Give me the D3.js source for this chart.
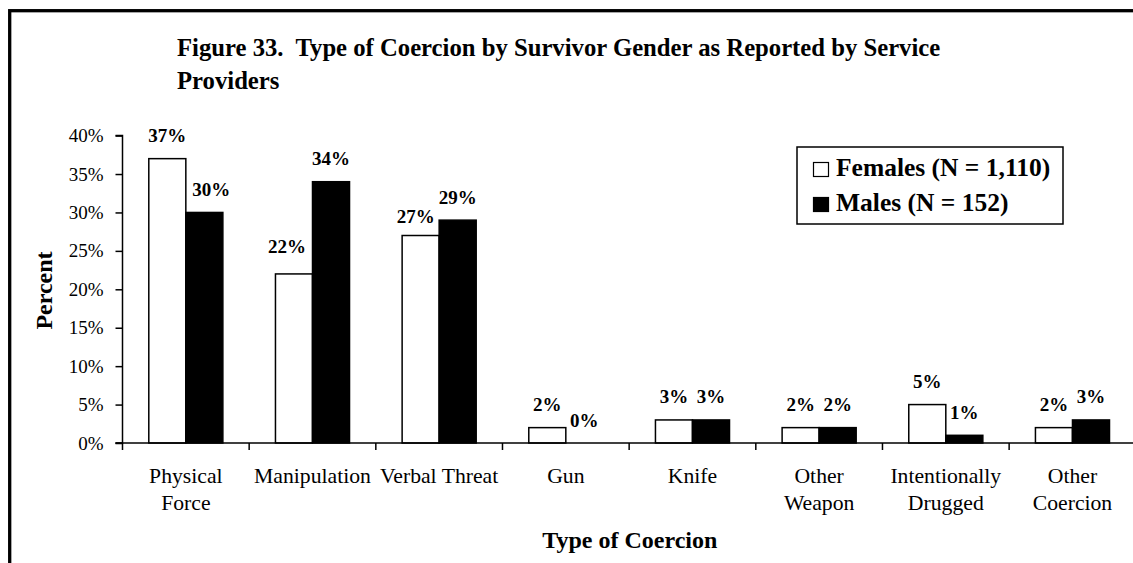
<!DOCTYPE html>
<html>
<head>
<meta charset="utf-8">
<script src="https://cdn.jsdelivr.net/npm/d3@7"></script>
<style>
  html, body { margin: 0; padding: 0; background: #fff; }
  svg { display: block; }
  text { font-family: "Liberation Serif", "Times New Roman", serif; fill: #000; white-space: pre; }
</style>
</head>
<body>
<svg id="chart" width="1133" height="563"></svg>
<script>
// Coercion types (two-line labels split on "\n")
const categories = [
  "Physical\nForce", "Manipulation", "Verbal Threat", "Gun",
  "Knife", "Other\nWeapon", "Intentionally\nDrugged", "Other\nCoercion"
];
const seriesNames = ["Females (N = 1,110)", "Males (N = 152)"];
const femaleValues = [37, 22, 27, 2, 3, 2, 5, 2];
const maleValues   = [30, 34, 29, 0, 3, 2, 1, 3];
const yTicks = [0, 5, 10, 15, 20, 25, 30, 35, 40];

// small hand nudges for value labels that would otherwise collide [dx, dy]
const labelNudge = {
  "0-1": [7, 0],
  "1-0": [-7, -4],
  "2-0": [-5, 4]
};

const svg = d3.select("#chart");

// outer frame (right and bottom edges fall outside the page)
svg.append("rect")
  .attr("x", 9.7).attr("y", 10.7)
  .attr("width", 1300).attr("height", 700)
  .attr("fill", "none").attr("stroke", "#000").attr("stroke-width", 3.3);

// title
const title = svg.append("text")
  .attr("x", 177).attr("y", 56)
  .attr("font-size", 24.7).attr("font-weight", "bold");
title.append("tspan").attr("x", 177).attr("y", 56)
  .text("Figure 33.  Type of Coercion by Survivor Gender as Reported by Service");
title.append("tspan").attr("x", 177).attr("y", 88.5).text("Providers");

// scales
const plotLeft = 122.5, plotRight = 1135.8, plotBottom = 443, plotTop = 135.6;
const x0 = d3.scaleBand().domain(d3.range(categories.length)).range([plotLeft, plotRight]).padding(0);
const groupPad = 26.3;
const x1 = d3.scaleBand().domain([0, 1]).range([groupPad, x0.bandwidth() - groupPad]).padding(0);
const y = d3.scaleLinear().domain([0, 40]).range([plotBottom, plotTop]);

// bars
const rows = categories.map((c, i) => ({ i, vals: [femaleValues[i], maleValues[i]] }));
const groups = svg.append("g").selectAll("g").data(rows).join("g")
  .attr("transform", d => `translate(${x0(d.i)},0)`);

groups.selectAll("rect").data(d => d.vals.map((v, s) => ({ v, s, i: d.i }))).join("rect")
  .filter(d => d.v > 0)
  .attr("x", d => x1(d.s))
  .attr("y", d => y(d.v))
  .attr("width", x1.bandwidth())
  .attr("height", d => y(0) - y(d.v))
  .attr("fill", d => d.s === 0 ? "#fff" : "#000")
  .attr("stroke", "#000").attr("stroke-width", 1.5);

// value labels
groups.selectAll("text.val").data(d => d.vals.map((v, s) => ({ v, s, i: d.i }))).join("text")
  .attr("class", "val")
  .attr("x", d => x1(d.s) + x1.bandwidth() / 2 + (labelNudge[d.i + "-" + d.s] || [0, 0])[0])
  .attr("y", d => y(d.v) - 16.5 + (labelNudge[d.i + "-" + d.s] || [0, 0])[1])
  .attr("text-anchor", "middle")
  .attr("font-size", 19).attr("font-weight", "bold")
  .text(d => d.v + "%");

// y axis
const yAxis = d3.axisLeft(y).tickValues(yTicks).tickFormat(d => d + "%").tickSize(7).tickPadding(12);
const gy = svg.append("g").attr("transform", `translate(${plotLeft},0)`).call(yAxis);
gy.select(".domain").attr("stroke", "#000").attr("stroke-width", 1.5).attr("d", `M-7,${plotTop}H0V${plotBottom}H-7`);
gy.selectAll(".tick line").attr("stroke", "#000").attr("stroke-width", 1.5);
gy.selectAll(".tick text").attr("font-family", "Liberation Serif, serif").attr("font-size", 19).attr("fill", "#000");

// x axis line and category dividers
const gx = svg.append("g").attr("transform", `translate(0,${plotBottom})`);
gx.append("line").attr("x1", plotLeft - 7).attr("x2", plotRight).attr("y1", 0).attr("y2", 0)
  .attr("stroke", "#000").attr("stroke-width", 1.5);
gx.selectAll("line.tick").data(d3.range(categories.length + 1)).join("line")
  .attr("class", "tick")
  .attr("x1", d => plotLeft + d * x0.step()).attr("x2", d => plotLeft + d * x0.step())
  .attr("y1", 0).attr("y2", 7)
  .attr("stroke", "#000").attr("stroke-width", 1.5);

// category labels
const catText = gx.selectAll("text.cat").data(categories).join("text")
  .attr("class", "cat")
  .attr("text-anchor", "middle")
  .attr("font-size", 21.7);
catText.each(function (d, i) {
  const cx = x0(i) + x0.bandwidth() / 2;
  d.split("\n").forEach((line, k) => {
    d3.select(this).append("tspan").attr("x", cx).attr("y", 40 + k * 27.3).text(line);
  });
});

// axis titles
svg.append("text")
  .attr("x", (plotLeft + 1133) / 2 + 2).attr("y", 548)
  .attr("text-anchor", "middle").attr("font-size", 24).attr("font-weight", "bold")
  .text("Type of Coercion");

svg.append("text")
  .attr("transform", `translate(51.5,${290.5}) rotate(-90)`)
  .attr("text-anchor", "middle").attr("font-size", 24).attr("font-weight", "bold")
  .text("Percent");

// legend
const legend = svg.append("g");
legend.append("rect")
  .attr("x", 797).attr("y", 147).attr("width", 266).attr("height", 77)
  .attr("fill", "#fff").attr("stroke", "#000").attr("stroke-width", 1.5);
const legendRows = legend.selectAll("g").data(seriesNames).join("g")
  .attr("transform", (d, i) => `translate(813,${162 + i * 35})`);
legendRows.append("rect")
  .attr("x", 0.5).attr("y", 0.5).attr("width", 15).attr("height", 14)
  .attr("fill", (d, i) => i === 0 ? "#fff" : "#000")
  .attr("stroke", "#000").attr("stroke-width", 1.2);
legendRows.append("text")
  .attr("x", 23).attr("y", 13.5)
  .attr("font-size", 25.5).attr("font-weight", "bold")
  .text(d => d);
</script>
</body>
</html>
